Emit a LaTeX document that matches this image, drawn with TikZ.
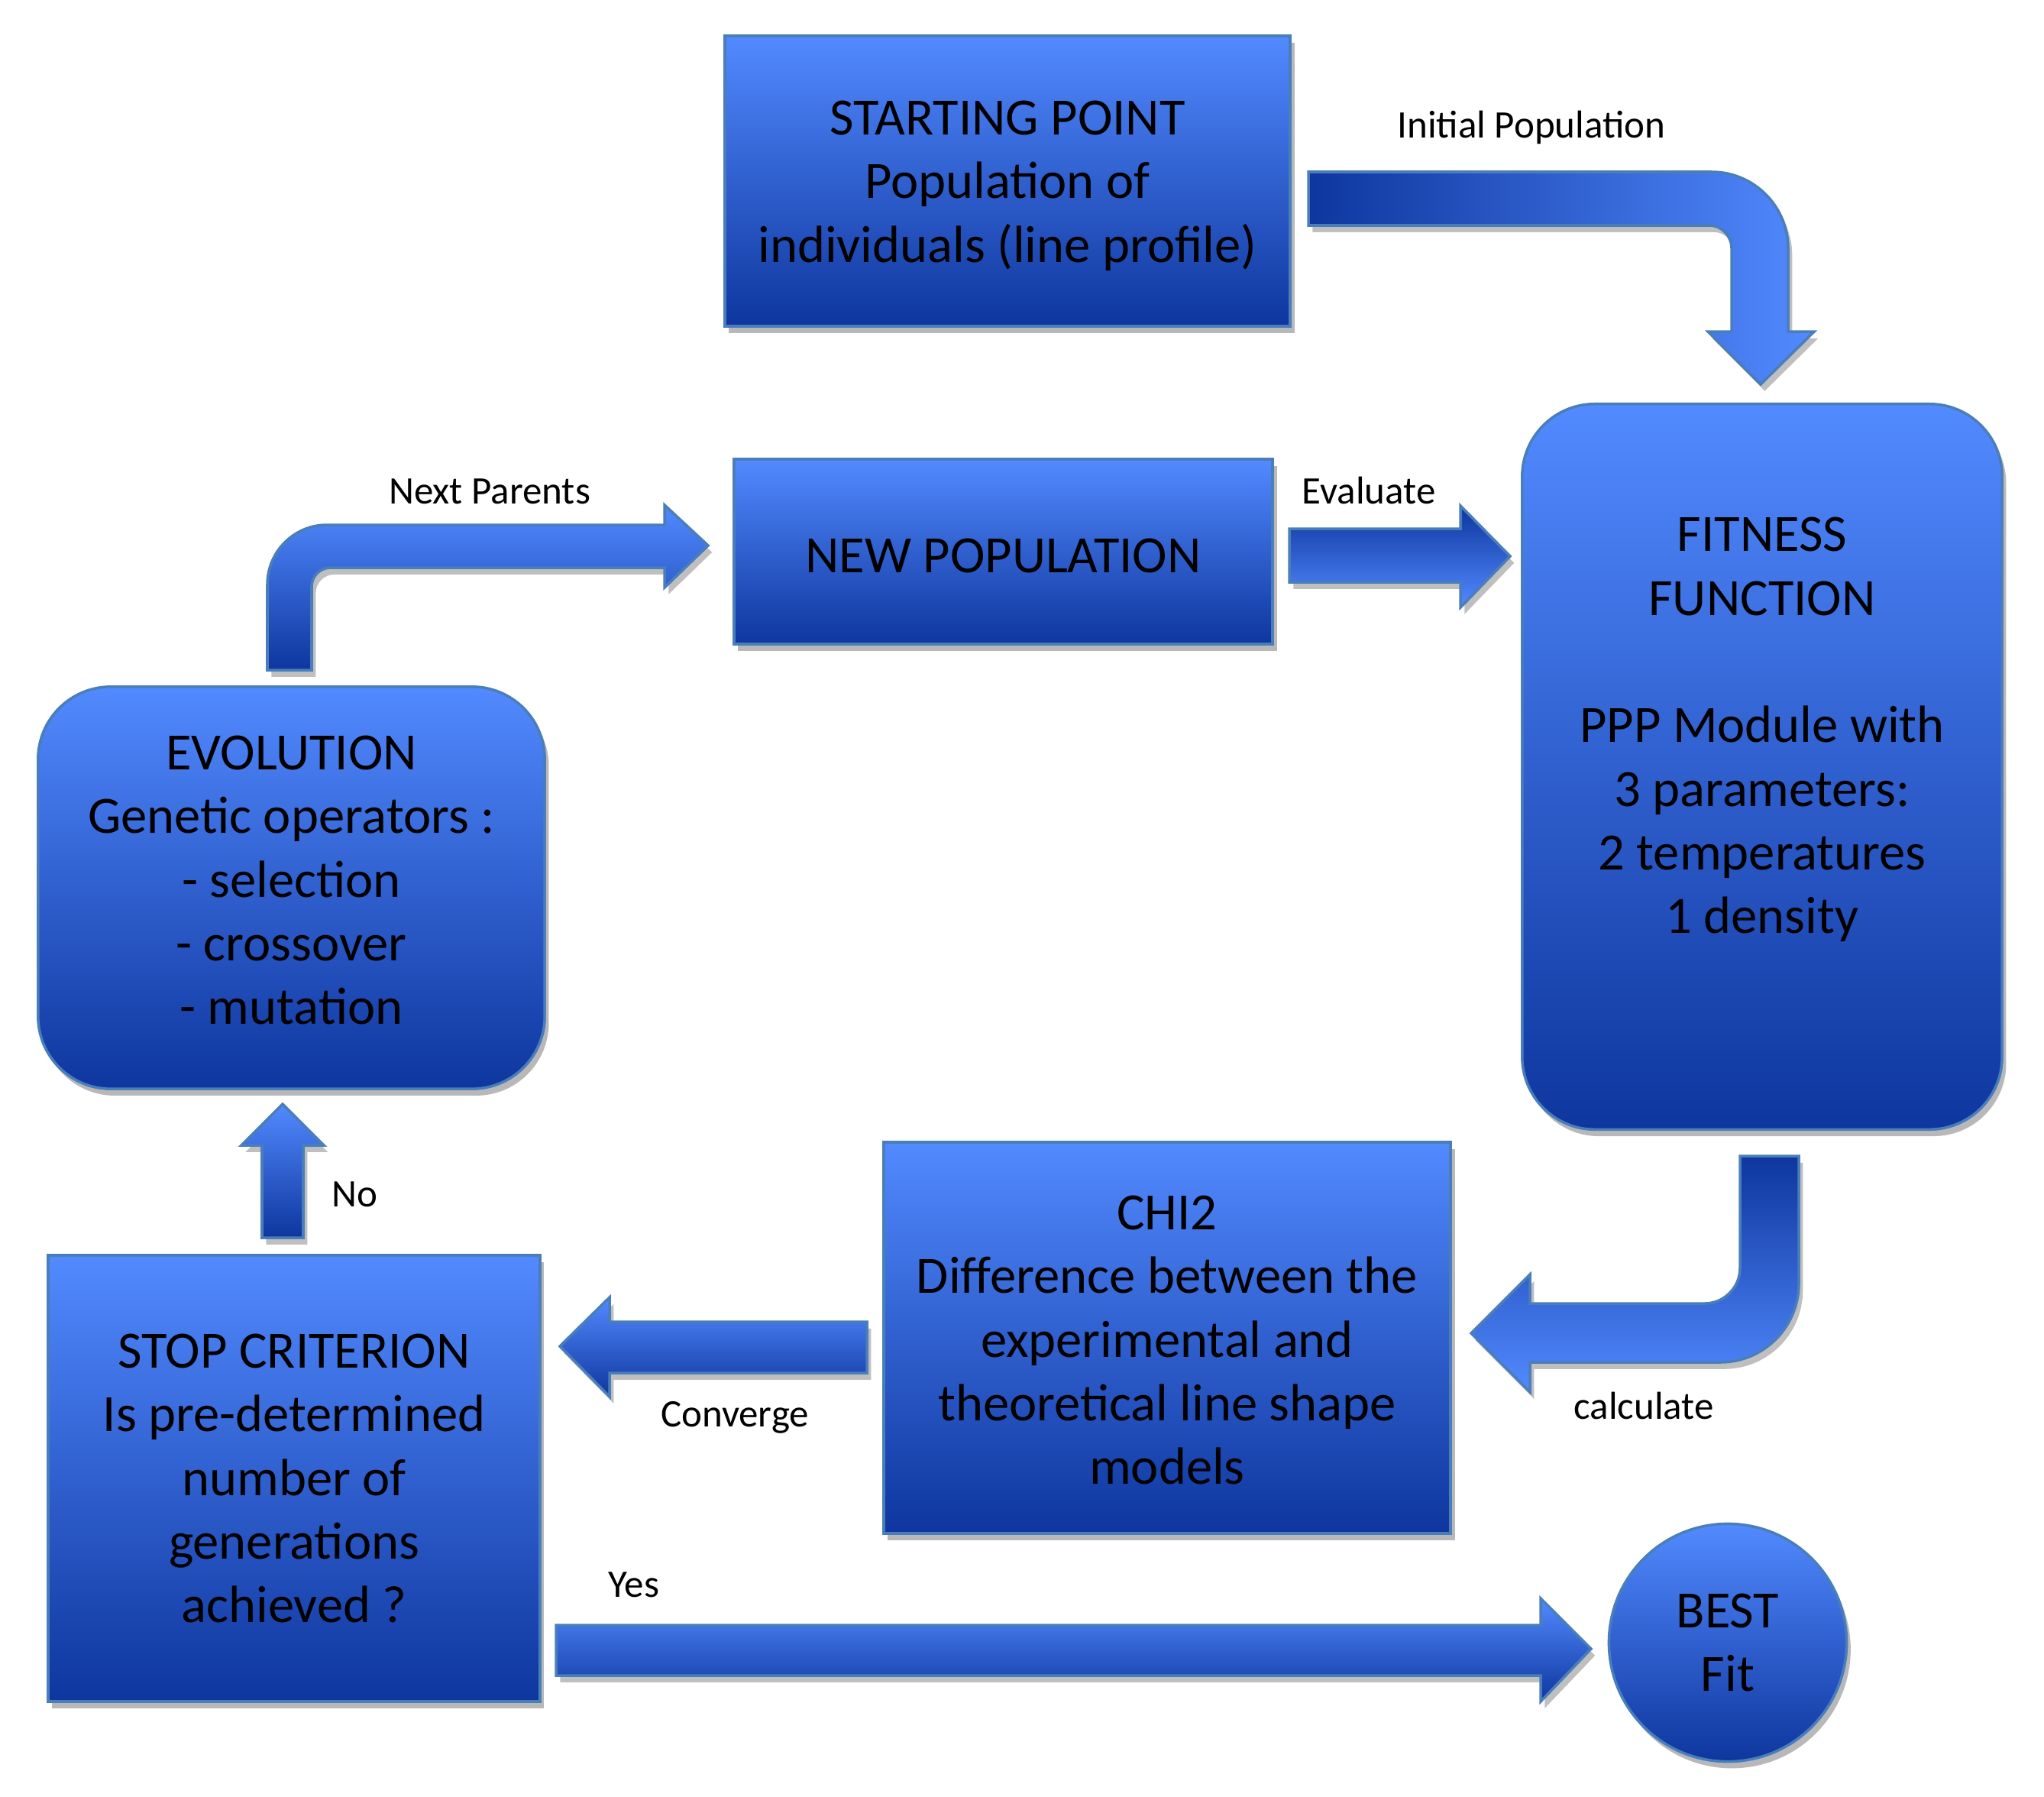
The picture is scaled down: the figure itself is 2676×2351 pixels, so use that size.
\documentclass[tikz,border=0pt]{standalone}
\usepackage{fontspec}
\setmainfont{Carlito}
\usetikzlibrary{shadows}
\definecolor{topc}{RGB}{82,138,255}
\definecolor{botc}{RGB}{14,54,158}
\definecolor{bordc}{RGB}{74,126,187}
\newcommand{\bigtxt}{\fontsize{19.5}{23.7}\selectfont}
\newcommand{\lbltxt}{\fontsize{14.5}{17.5}\selectfont}
\begin{document}
\begin{tikzpicture}[x=0.01cm,y=-0.01cm,
  box/.style={draw=bordc, line width=1pt, top color=topc, bottom color=botc,
    align=center, inner sep=0pt, font=\bigtxt,
    drop shadow={shadow xshift=1.5pt, shadow yshift=-2.5pt, opacity=0.28, fill=black}},
  txt/.style={align=center, font=\bigtxt, inner sep=0pt},
  blk/.style={draw=bordc, line width=1pt,
    preaction={fill=black, opacity=0.25, transform canvas={xshift=1.5pt,yshift=-2.5pt}}},
  down/.style={top color=topc, bottom color=botc},
  up/.style={top color=botc, bottom color=topc},
  lbl/.style={font=\lbltxt, anchor=base, inner sep=0pt}
]
\useasboundingbox (0,0) rectangle (2676,2351);

% boxes
\node[box, minimum width=7.40cm, minimum height=3.80cm] (start) at (1319,237) {};
\node[txt] (starttxt) at (1319,243)
  {STARTING POINT\\Population of\\individuals (line profile)};
\node[box, minimum width=7.05cm, minimum height=2.42cm] (newpop) at (1313.5,722) {};
\node[txt] (newpoptxt) at (1313.5,727) {NEW POPULATION};
\node[box, rounded corners=0.95cm, minimum width=6.28cm, minimum height=9.49cm] (fit) at (2307,1003.5) {};
\node[txt] (fittxt) at (2307,955)
  {FITNESS\\FUNCTION\\[\baselineskip]PPP Module with\\3 parameters:\\2 temperatures\\1 density};
\node[box, rounded corners=0.95cm, minimum width=6.63cm, minimum height=5.26cm] (evol) at (381.5,1162) {};
\node[txt] (evoltxt) at (381.5,1152)
  {EVOLUTION\\Genetic operators :\\- selection\\- crossover\\- mutation};
\node[box, minimum width=6.44cm, minimum height=5.84cm] (stop) at (385,1935)
  {STOP CRITERION\\Is pre-determined\\number of\\generations\\achieved ?};
\node[box, minimum width=7.42cm, minimum height=5.12cm] (chi) at (1528,1751) {};
\node[txt] (chitxt) at (1528,1754)
  {CHI2\\Difference between the\\experimental and\\theoretical line shape\\models};
\node[box, circle, minimum size=3.11cm] (best) at (2262,2150) {BEST\\Fit};

% block arrows
% start -> fitness
\path[blk, left color=botc, right color=topc]
  (1713,225) -- (2241,225) .. controls (2296,225) and (2341,270) .. (2341,325)
  -- (2341,434) -- (2375,434) -- (2305,503) -- (2236,434) -- (2267,434)
  -- (2267,325) .. controls (2267,309) and (2254,295) .. (2238,295)
  -- (1713,295) -- cycle;
% newpop -> fitness
\path[blk, up]
  (1688,692) -- (1912,692) -- (1912,662) -- (1977,728) -- (1912,795)
  -- (1912,762) -- (1688,762) -- cycle;
% evolution -> newpop
\path[blk, down]
  (350,877) -- (350,765) .. controls (350,722) and (385,687) .. (428,687)
  -- (870,687) -- (870,661) -- (927,714) -- (870,769) -- (870,743)
  -- (433,743) .. controls (419,743) and (408,754) .. (408,768)
  -- (408,877) -- cycle;
% stop -> evolution
\path[blk, down]
  (343,1620) -- (343,1499) -- (316,1499) -- (370,1445) -- (424,1499)
  -- (397,1499) -- (397,1620) -- cycle;
% chi -> stop
\path[blk, down]
  (1135,1730) -- (798,1730) -- (798,1698) -- (733,1762) -- (798,1828)
  -- (798,1797) -- (1135,1797) -- cycle;
% fitness -> chi
\path[blk, up]
  (2278,1513) -- (2355,1513) -- (2355,1680) .. controls (2355,1737) and (2309,1783) .. (2252,1783)
  -- (2003,1783) -- (2003,1822) -- (1926,1745) -- (2003,1668) -- (2003,1706)
  -- (2232,1706) .. controls (2257,1706) and (2278,1685) .. (2278,1660) -- cycle;
% stop -> best
\path[blk, down]
  (728,2127) -- (2017,2127) -- (2017,2092) -- (2083,2158) -- (2017,2227)
  -- (2017,2193) -- (728,2193) -- cycle;

% labels
\node[lbl] (lInit) at (2005,180) {Initial Population};
\node[lbl] (lEval) at (1792,659) {Evaluate};
\node[lbl] (lNext) at (641,659) {Next Parents};
\node[lbl] (lNo) at (464,1579) {No};
\node[lbl] (lConv) at (962,1867) {Converge};
\node[lbl] (lCalc) at (2152,1857) {calculate};
\node[lbl] (lYes) at (830,2090) {Yes};
\end{tikzpicture}
\end{document}
